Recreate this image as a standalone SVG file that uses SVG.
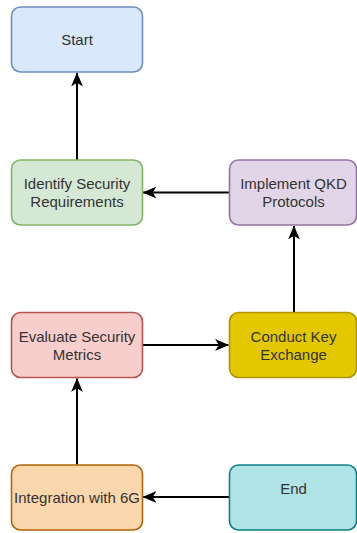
<svg xmlns="http://www.w3.org/2000/svg" width="357" height="533" viewBox="0 0 357 533">
<style>
.box{stroke-width:1.6}
.t{font-family:"Liberation Sans",Arial,sans-serif;font-size:15px;fill:#333333;text-anchor:middle}
.edge{fill:none;stroke:#000;stroke-width:2;marker-end:url(#arr)}
</style>
<defs>
<marker id="arr" markerUnits="userSpaceOnUse" markerWidth="14" markerHeight="12" viewBox="0 0 13 11" refX="12.5" refY="5.5" orient="auto">
<path d="M0,0 L13,5.5 L0,11 L3.5,5.5 Z" fill="#000"/>
</marker>
</defs>
<rect width="357" height="533" fill="#ffffff"/>
<g id="connectors">
<path class="edge" d="M77,160 L77,73"/>
<path class="edge" d="M229,192.5 L143,192.5"/>
<path class="edge" d="M294,312 L294,226"/>
<path class="edge" d="M142,345 L228.5,345"/>
<path class="edge" d="M77,464.5 L77,378.5"/>
<path class="edge" d="M229,497 L143,497"/>
</g>
<g id="start">
<rect class="box" x="11.5" y="7" width="131" height="65" rx="9" fill="#dae8fc" stroke="#6c8ebf"/>
<text class="t" x="77" y="45">Start</text>
</g>
<g id="identify">
<rect class="box" x="11.5" y="160" width="131" height="65" rx="9" fill="#d5e8d4" stroke="#82b366"/>
<text class="t" x="77" y="188.5">Identify Security</text>
<text class="t" x="77" y="207">Requirements</text>
</g>
<g id="implement">
<rect class="box" x="229.5" y="160" width="127" height="65" rx="9" fill="#e1d5e7" stroke="#9673a6"/>
<text class="t" x="293.5" y="188.5">Implement QKD</text>
<text class="t" x="293.5" y="207">Protocols</text>
</g>
<g id="evaluate">
<rect class="box" x="11.5" y="312.5" width="131" height="65" rx="9" fill="#f8cecc" stroke="#b85450"/>
<text class="t" x="77" y="342">Evaluate Security</text>
<text class="t" x="77" y="360">Metrics</text>
</g>
<g id="conduct">
<rect class="box" x="229.5" y="312.5" width="127" height="65" rx="9" fill="#e3c800" stroke="#b09500"/>
<text class="t" x="293.5" y="342">Conduct Key</text>
<text class="t" x="293.5" y="360">Exchange</text>
</g>
<g id="integration">
<rect class="box" x="11.5" y="465" width="131" height="65" rx="9" fill="#fad7ac" stroke="#b46504"/>
<text class="t" x="77" y="502.5">Integration with 6G</text>
</g>
<g id="end">
<rect class="box" x="229.5" y="465" width="127" height="65" rx="9" fill="#b0e3e6" stroke="#0e8088"/>
<text class="t" x="293.5" y="493.5">End</text>
</g>
</svg>
